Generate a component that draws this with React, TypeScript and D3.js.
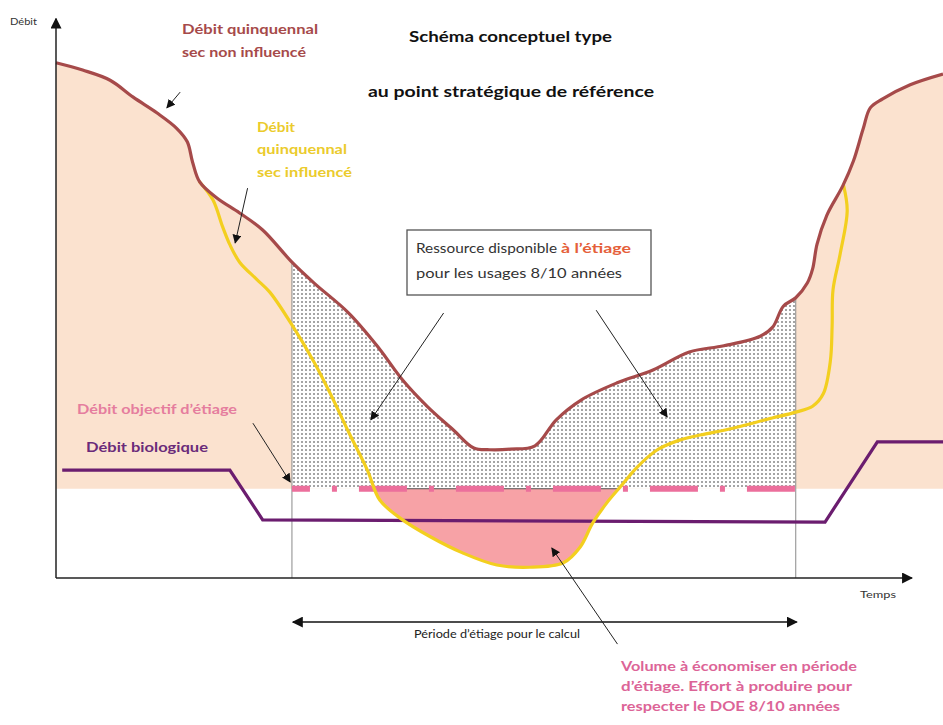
import React from 'react';
import * as d3 from 'd3';

// ---------- Data (time t in 0..100, discharge q in 0..100) ----------
const nonInfluenced: [number, number][] = [
  [0, 91.2], [3.0, 89.9], [6.1, 88.1], [8.7, 85.1], [11.4, 82.3], [13.6, 79.6],
  [14.8, 77.2], [15.4, 73.6], [16.2, 70.1], [18.1, 67.3], [20.7, 64.6], [23.3, 61.6],
  [26.6, 55.9], [29.1, 52.2], [33.0, 46.9], [36.3, 40.9], [39.1, 35.0], [41.9, 30.3],
  [44.8, 26.2], [47.1, 23.0], [48.9, 22.7], [51.2, 22.8], [54.0, 23.4], [56.4, 28.0],
  [59.2, 31.5], [63.2, 34.5], [67.3, 36.8], [71.4, 40.0], [75.3, 41.1], [79.4, 42.8],
  [80.8, 44.4], [82.0, 48.1], [83.4, 49.6], [84.7, 52.2], [85.3, 54.7], [85.8, 59.1],
  [86.9, 64.2], [88.7, 69.4], [89.9, 73.8], [91.0, 79.5], [91.8, 83.2], [93.2, 84.8],
  [96.3, 87.3], [100, 89.2],
];

const influenced: [number, number][] = [
  [16.2, 70.1], [17.7, 66.9], [18.8, 62.1], [19.6, 59.0], [20.7, 55.9], [22.6, 52.9],
  [24.1, 50.6], [26.6, 44.8], [29.1, 38.2], [31.0, 32.4], [33.0, 25.8], [35.1, 19.1],
  [36.5, 13.8], [38.8, 10.6], [42.2, 7.3], [45.9, 4.4], [49.7, 2.3], [53.4, 1.9],
  [57.2, 2.7], [59.1, 5.5], [60.5, 9.7], [62.1, 13.3], [63.6, 16.1], [65.5, 19.6],
  [67.8, 22.7], [70.3, 24.4], [72.6, 25.3], [76.3, 26.5], [80.2, 28.1], [83.5, 29.4],
  [85.3, 30.4], [86.5, 32.6], [87.3, 38.4], [87.5, 44.6], [87.6, 51.0], [88.4, 57.3],
  [89.2, 65.0], [88.8, 69.4],
];

const biological: [number, number][] = [
  [0.7, 19.1], [19.6, 19.1], [23.3, 10.3], [86.7, 9.9], [92.6, 24.1], [100, 24.1],
];

const doeLevel = 15.8;
const period: [number, number] = [26.6, 83.4];

// annotation arrows: [fromT, fromQ, toT, toQ]
const pointerArrows: [number, number, number, number][] = [
  [14.0, 86.0, 12.5, 83.2],
  [21.6, 69.0, 20.2, 59.3],
  [22.2, 27.4, 26.4, 17.0],
  [43.7, 46.9, 35.5, 28.0],
  [60.9, 47.4, 68.9, 28.5],
  [63.3, -11.7, 55.9, 5.3],
];

const W = 943;
const H = 725;

export default function App() {
  const x = d3.scaleLinear().domain([0, 100]).range([56, 943]);
  const y = d3.scaleLinear().domain([0, 100]).range([578, 13]);

  const curve = d3.curveCatmullRom.alpha(0.5);
  const line = d3.line<[number, number]>().x(d => x(d[0])).y(d => y(d[1])).curve(curve);
  const areaToDoe = d3
    .area<[number, number]>()
    .x(d => x(d[0]))
    .y0(y(doeLevel))
    .y1(d => y(d[1]))
    .curve(curve);

  const brownPath = line(nonInfluenced) || '';
  const yellowPath = line(influenced) || '';
  const peachPath = areaToDoe(nonInfluenced) || '';

  // pink deficit region: above yellow, below DOE
  const deficitPts = influenced.filter(d => d[0] >= 33 && d[0] <= 65.5);
  const deficitLine = line(deficitPts) || '';
  const first = deficitPts[0];
  const last = deficitPts[deficitPts.length - 1];
  const deficitPath = `${deficitLine} L${x(last[0])},${y(60)} L${x(first[0])},${y(60)} Z`;

  const px0 = x(period[0]);
  const px1 = x(period[1]);
  const doeY = y(doeLevel);
  const axisY = y(0);
  const axisX = x(0);

  const brownAt = (t: number) => {
    let best = nonInfluenced[0];
    for (const p of nonInfluenced) if (Math.abs(p[0] - t) < Math.abs(best[0] - t)) best = p;
    return best[1];
  };

  const fontMain = 'Lato, "Open Sans", "Liberation Sans", sans-serif';

  return (
    <svg
      width={W}
      height={H}
      viewBox={`0 0 ${W} ${H}`}
      style={{ position: 'absolute', left: 0, top: 0, background: '#ffffff', display: 'block' }}
    >
      <defs>
        <pattern id="dots" width="4" height="4" patternUnits="userSpaceOnUse">
          <rect width="4" height="4" fill="#ffffff" />
          <circle cx="2" cy="2" r="0.8" fill="#333333" />
        </pattern>
        <clipPath id="periodClip">
          <rect x={px0} y={0} width={px1 - px0} height={H} />
        </clipPath>
        <clipPath id="belowDoe">
          <rect x={0} y={doeY} width={W} height={axisY - doeY} />
        </clipPath>
        <marker id="arrowSmall" viewBox="0 0 10 10" refX="9" refY="5" markerWidth="9" markerHeight="9"
          markerUnits="userSpaceOnUse" orient="auto-start-reverse">
          <path d="M0,0 L10,5 L0,10 Z" fill="#111" />
        </marker>
        <marker id="arrowAxis" viewBox="0 0 10 10" refX="9" refY="5" markerWidth="11" markerHeight="11"
          markerUnits="userSpaceOnUse" orient="auto-start-reverse">
          <path d="M0,0 L10,5 L0,10 Z" fill="#111" />
        </marker>
      </defs>

      {/* peach zone under non-influenced flow */}
      <path d={peachPath} fill="#fbe2cf" />
      {/* dotted zone: available resource in the low-water period */}
      <g clipPath="url(#periodClip)">
        <path d={peachPath} fill="url(#dots)" />
      </g>
      {/* deficit volume */}
      <g clipPath="url(#belowDoe)">
        <path d={deficitPath} fill="#f7a2a6" />
      </g>
      <line x1={x(35)} x2={x(63.6)} y1={doeY} y2={doeY} stroke="#555" strokeWidth={1} />

      {/* vertical period guides */}
      <line x1={px0} x2={px0} y1={y(brownAt(period[0]))} y2={axisY} stroke="#8a8a8a" strokeWidth={1} />
      <line x1={px1} x2={px1} y1={y(brownAt(period[1]))} y2={axisY} stroke="#8a8a8a" strokeWidth={1} />

      {/* DOE dashed line */}
      <line
        x1={px0}
        x2={px1}
        y1={doeY}
        y2={doeY}
        stroke="#ec6f9c"
        strokeWidth={6}
        strokeDasharray="48 22 5 22"
        strokeDashoffset={30}
      />

      {/* biological flow */}
      <path d={d3.line<[number, number]>().x(d => x(d[0])).y(d => y(d[1]))(biological) || ''}
        fill="none" stroke="#6b1d6f" strokeWidth={3.2} strokeLinejoin="miter" />

      {/* influenced flow */}
      <path d={yellowPath} fill="none" stroke="#f3cf1f" strokeWidth={3.2} strokeLinejoin="round" strokeLinecap="round" />
      {/* non-influenced flow */}
      <path d={brownPath} fill="none" stroke="#a64a4a" strokeWidth={3.2} strokeLinejoin="round" />

      {/* axes */}
      <line x1={axisX} y1={axisY} x2={axisX} y2={y(99)} stroke="#222" strokeWidth={1.5} markerEnd="url(#arrowAxis)" />
      <line x1={axisX} y1={axisY} x2={x(96.5)} y2={axisY} stroke="#222" strokeWidth={1.5} markerEnd="url(#arrowAxis)" />

      {/* period double arrow */}
      <line x1={px0 + 1} x2={px1 + 1} y1={y(-7.8)} y2={y(-7.8)} stroke="#111" strokeWidth={1.5}
        markerStart="url(#arrowAxis)" markerEnd="url(#arrowAxis)" />

      {/* pointer arrows */}
      {pointerArrows.map((a, i) => (
        <line key={i} x1={x(a[0])} y1={y(a[1])} x2={x(a[2])} y2={y(a[3])} stroke="#222" strokeWidth={1}
          markerEnd="url(#arrowSmall)" />
      ))}

      {/* box */}
      <rect x={407} y={230} width={244} height={65} fill="#ffffff" stroke="#555" strokeWidth={1.3} />
      <text x={416} y={253} fontFamily={fontMain} fontSize={14} fill="#333">
        <tspan textLength={141} lengthAdjust="spacingAndGlyphs">Ressource disponible</tspan>
        <tspan x={561} fill="#e5603a" fontWeight="bold" textLength={70} lengthAdjust="spacingAndGlyphs">à l’étiage</tspan>
      </text>
      <text x={416} y={278} fontFamily={fontMain} fontSize={14} fill="#333" textLength={206} lengthAdjust="spacingAndGlyphs">
        pour les usages 8/10 années
      </text>

      {/* titles */}
      <text x={409} y={42} fontFamily={fontMain} fontSize={15} fontWeight="bold" fill="#111" textLength={203} lengthAdjust="spacingAndGlyphs">
        Schéma conceptuel type
      </text>
      <text x={368} y={97} fontFamily={fontMain} fontSize={15} fontWeight="bold" fill="#111" textLength={286} lengthAdjust="spacingAndGlyphs">
        au point stratégique de référence
      </text>

      {/* axis labels */}
      <text x={10} y={25} fontFamily={fontMain} fontSize={10} fill="#333" textLength={27} lengthAdjust="spacingAndGlyphs">Débit</text>
      <text x={860} y={598} fontFamily={fontMain} fontSize={10} fill="#333" textLength={36} lengthAdjust="spacingAndGlyphs">Temps</text>
      <text x={414} y={638} fontFamily={fontMain} fontSize={10.5} fill="#222" textLength={166} lengthAdjust="spacingAndGlyphs">
        Période d’étiage pour le calcul
      </text>

      {/* series labels */}
      <text x={182} y={34} fontFamily={fontMain} fontSize={14} fontWeight="bold" fill="#a64a4a" textLength={136} lengthAdjust="spacingAndGlyphs">Débit quinquennal</text>
      <text x={182} y={57} fontFamily={fontMain} fontSize={14} fontWeight="bold" fill="#a64a4a" textLength={124} lengthAdjust="spacingAndGlyphs">sec non influencé</text>

      <text x={257} y={132} fontFamily={fontMain} fontSize={14} fontWeight="bold" fill="#ebcb2c" textLength={38} lengthAdjust="spacingAndGlyphs">Débit</text>
      <text x={257} y={154} fontFamily={fontMain} fontSize={14} fontWeight="bold" fill="#ebcb2c" textLength={90} lengthAdjust="spacingAndGlyphs">quinquennal</text>
      <text x={257} y={177} fontFamily={fontMain} fontSize={14} fontWeight="bold" fill="#ebcb2c" textLength={95} lengthAdjust="spacingAndGlyphs">sec influencé</text>

      <text x={77} y={414} fontFamily={fontMain} fontSize={14} fontWeight="bold" fill="#e57d9e" textLength={160} lengthAdjust="spacingAndGlyphs">Débit objectif d’étiage</text>
      <text x={86} y={452} fontFamily={fontMain} fontSize={14} fontWeight="bold" fill="#6a2b7a" textLength={122} lengthAdjust="spacingAndGlyphs">Débit biologique</text>

      <text x={621} y={671} fontFamily={fontMain} fontSize={14} fontWeight="bold" fill="#dc6497" textLength={236} lengthAdjust="spacingAndGlyphs">Volume à économiser en période</text>
      <text x={621} y={691} fontFamily={fontMain} fontSize={14} fontWeight="bold" fill="#dc6497" textLength={231} lengthAdjust="spacingAndGlyphs">d’étiage. Effort à produire pour</text>
      <text x={621} y={711} fontFamily={fontMain} fontSize={14} fontWeight="bold" fill="#dc6497" textLength={219} lengthAdjust="spacingAndGlyphs">respecter le DOE 8/10 années</text>
    </svg>
  );
}
